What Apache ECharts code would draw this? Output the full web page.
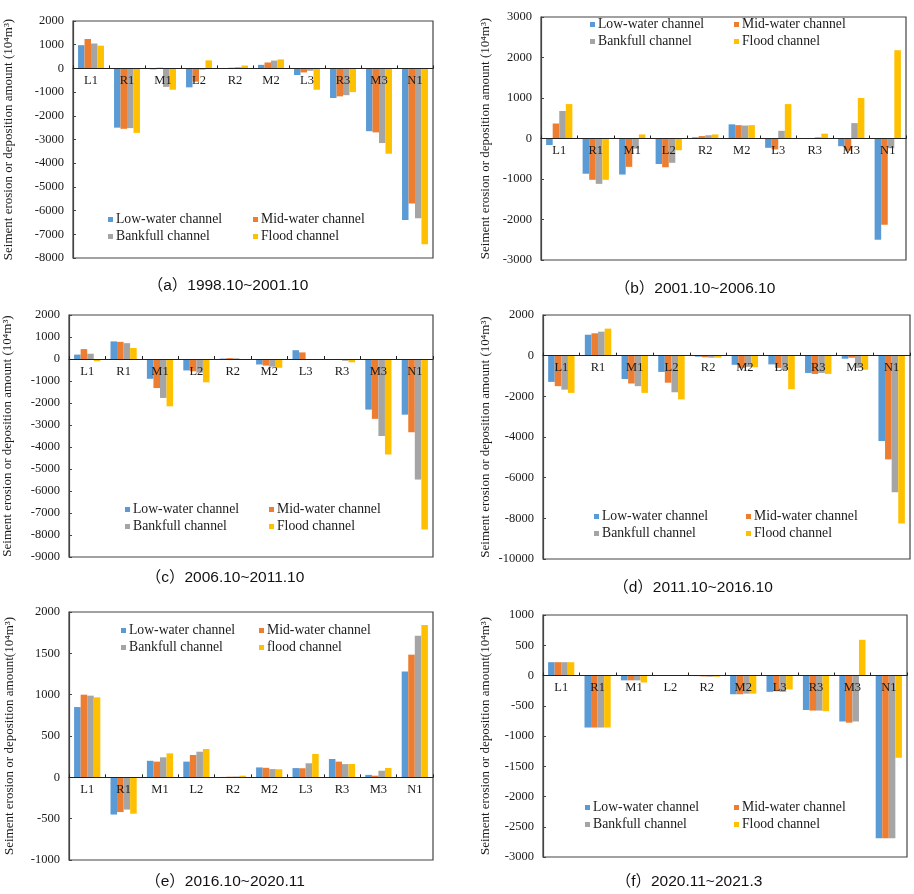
<!DOCTYPE html>
<html>
<head>
<meta charset="utf-8">
<script src="https://cdn.jsdelivr.net/npm/echarts@6/dist/echarts.min.js"></script>
<style>
  html, body { margin: 0; padding: 0; background: #fff; }
  #chart { width: 914px; height: 894px; }
</style>
</head>
<body>
<div id="chart"></div>
<script>
// Reach names along the river
const categories = ['L1', 'R1', 'M1', 'L2', 'R2', 'M2', 'L3', 'R3', 'M3', 'N1'];

// (a) 1998.10~2001.10
const lowA   = [980, -2500, -40, -800, 10, 150, -280, -1250, -2650, -6400];
const midA   = [1240, -2550, 30, -560, 30, 250, -170, -1180, -2700, -5700];
const bankA  = [1050, -2520, -780, -50, 50, 330, -100, -1130, -3150, -6320];
const floodA = [960, -2720, -900, 340, 120, 380, -900, -1000, -3600, -7420];

// (b) 2001.10~2006.10
const lowB   = [-160, -870, -890, -630, 30, 350, -230, 0, -190, -2500];
const midB   = [370, -1020, -700, -710, 60, 330, -270, 10, -300, -2130];
const bankB  = [680, -1120, -250, -600, 80, 320, 190, 30, 380, -240];
const floodB = [850, -1020, 100, -290, 100, 330, 850, 120, 1000, 2180];

// (c) 2006.10~2011.10
const lowC   = [200, 800, -900, -520, 20, -250, 400, -20, -2300, -2530];
const midC   = [450, 780, -1320, -560, 40, -300, 300, -30, -2720, -3330];
const bankC  = [240, 720, -1770, -620, 30, -350, 0, -80, -3500, -5480];
const floodC = [-100, 500, -2150, -1060, -40, -400, -30, -150, -4340, -7750];

// (d) 2011.10~2016.10
const lowD   = [-1290, 1030, -1150, -800, -50, -450, -430, -850, -150, -4200];
const midD   = [-1500, 1100, -1370, -1330, -80, -600, -600, -900, -100, -5100];
const bankD  = [-1670, 1180, -1500, -1800, -100, -550, -700, -850, -600, -6720];
const floodD = [-1830, 1330, -1830, -2150, -100, -570, -1650, -900, -690, -8250];

// (e) 2016.10~2020.11
const lowE   = [850, -450, 200, 190, 5, 120, 112, 222, 30, 1280];
const midE   = [1000, -420, 190, 270, 8, 115, 110, 190, 20, 1484];
const bankE  = [988, -390, 242, 310, 10, 100, 170, 160, 80, 1714];
const floodE = [968, -440, 290, 343, 20, 98, 282, 161, 113, 1843];

// (f) 2020.11~2021.3
const lowF   = [220, -860, -80, 0, -10, -310, -270, -570, -760, -2690];
const midF   = [220, -860, -80, 0, -15, -310, -260, -580, -780, -2690];
const bankF  = [220, -860, -80, 0, -20, -300, -270, -580, -760, -2690];
const floodF = [220, -860, -115, 0, -20, -300, -230, -590, 590, -1360];

const seriesNames = ['Low-water channel', 'Mid-water channel', 'Bankfull channel', 'Flood channel'];
const seriesNamesE = ['Low-water channel', 'Mid-water channel', 'Bankfull channel', 'flood channel'];
const colors = ['#5B9BD5', '#ED7D31', '#A5A5A5', '#FFC000'];
const yTitle = 'Seiment erosion or deposition amount (10\u2074m\u00B3)';
const yTitleNoSpace = 'Seiment erosion or deposition amount(10\u2074m\u00B3)';

const SERIF = '"Liberation Serif", "Times New Roman", serif';
const INK = '#1a1a1a';

const panels = [
  { data: [lowA, midA, bankA, floodA], names: seriesNames,
    grid: { left: 73, top: 21, width: 360, height: 237 },
    y: { min: -8000, max: 2000, interval: 1000 }, nameGap: 58, title: yTitle,
    legend: { c1: 108, c2: 253, top: 212 },
    caption: { text: '（a）1998.10~2001.10', x: 228, y: 286 } },
  { data: [lowB, midB, bankB, floodB], names: seriesNames,
    grid: { left: 541, top: 17, width: 365, height: 243 },
    y: { min: -3000, max: 3000, interval: 1000 }, nameGap: 49, title: yTitle,
    legend: { c1: 590, c2: 734, top: 17 },
    caption: { text: '（b）2001.10~2006.10', x: 695, y: 289 } },
  { data: [lowC, midC, bankC, floodC], names: seriesNames,
    grid: { left: 69, top: 315, width: 364, height: 242 },
    y: { min: -9000, max: 2000, interval: 1000 }, nameGap: 55, title: yTitle,
    legend: { c1: 125, c2: 269, top: 502 },
    caption: { text: '（c）2006.10~2011.10', x: 225, y: 578 } },
  { data: [lowD, midD, bankD, floodD], names: seriesNames,
    grid: { left: 543, top: 315, width: 367, height: 244 },
    y: { min: -10000, max: 2000, interval: 2000 }, nameGap: 51, title: yTitle,
    legend: { c1: 594, c2: 746, top: 509 },
    caption: { text: '（d）2011.10~2016.10', x: 693, y: 588 } },
  { data: [lowE, midE, bankE, floodE], names: seriesNamesE,
    grid: { left: 69, top: 612, width: 364, height: 248 },
    y: { min: -1000, max: 2000, interval: 500 }, nameGap: 53, title: yTitleNoSpace,
    legend: { c1: 121, c2: 259, top: 623 },
    caption: { text: '（e）2016.10~2020.11', x: 225, y: 882 } },
  { data: [lowF, midF, bankF, floodF], names: seriesNames,
    grid: { left: 543, top: 615, width: 364, height: 242 },
    y: { min: -3000, max: 1000, interval: 500 }, nameGap: 51, title: yTitleNoSpace,
    legend: { c1: 585, c2: 734, top: 800 },
    caption: { text: '（f）2020.11~2021.3', x: 689, y: 882 } }
];

const grids = [], xAxes = [], yAxes = [], series = [], legends = [], graphics = [];

panels.forEach((p, i) => {
  grids.push(Object.assign({
    show: true, borderColor: '#444', borderWidth: 1.2, backgroundColor: '#fff',
    containLabel: false
  }, p.grid));

  // lift the category axis (line, ticks and labels) from the grid bottom up to y = 0
  const zeroLift = p.grid.height * (0 - p.y.min) / (p.y.max - p.y.min);

  xAxes.push({
    type: 'category', gridIndex: i, data: categories,
    position: 'bottom', offset: -zeroLift, z: 10,
    axisLine: { onZero: false, lineStyle: { color: '#222', width: 1.2 } },
    axisTick: { show: true, inside: true, length: 3, lineStyle: { color: '#222' } },
    axisLabel: { fontFamily: SERIF, fontSize: 12.5, color: INK, margin: 6 },
    splitLine: { show: false }
  });

  yAxes.push({
    type: 'value', gridIndex: i,
    min: p.y.min, max: p.y.max, interval: p.y.interval,
    name: p.title, nameLocation: 'middle', nameGap: p.nameGap,
    nameTextStyle: { fontFamily: SERIF, fontSize: 13, color: INK },
    axisLine: { show: true, lineStyle: { color: '#444', width: 1.2 } },
    axisTick: { show: true, inside: true, length: 3, lineStyle: { color: '#444' } },
    axisLabel: { fontFamily: SERIF, fontSize: 12.5, color: INK, margin: 9,
                 formatter: v => String(v) },
    splitLine: { show: false }
  });

  p.data.forEach((vals, k) => {
    series.push({
      type: 'bar', name: p.names[k], xAxisIndex: i, yAxisIndex: i,
      data: vals, itemStyle: { color: colors[k] },
      barGap: '0%', barCategoryGap: '28%',
      animation: false
    });
  });

  const legendBase = {
    orient: 'vertical', icon: 'rect', itemWidth: 5, itemHeight: 5, itemGap: 2,
    top: p.legend.top, selectedMode: false,
    textStyle: { fontFamily: SERIF, fontSize: 13.7, color: INK, lineHeight: 15, padding: [0, 0, 0, -2] },
    padding: 0
  };
  legends.push(Object.assign({}, legendBase, { left: p.legend.c1, data: [p.names[0], p.names[2]] }));
  legends.push(Object.assign({}, legendBase, { left: p.legend.c2, data: [p.names[1], p.names[3]] }));

  graphics.push({
    type: 'text', x: p.caption.x, y: p.caption.y,
    style: {
      text: p.caption.text, textAlign: 'center', textVerticalAlign: 'middle',
      font: '15.5px "Liberation Sans", Arial, "Noto Sans CJK SC", sans-serif', fill: '#111'
    }
  });
});

const chart = echarts.init(document.getElementById('chart'), null, { renderer: 'canvas' });
chart.setOption({
  backgroundColor: '#fff',
  animation: false,
  grid: grids,
  xAxis: xAxes,
  yAxis: yAxes,
  legend: legends,
  series: series,
  graphic: graphics
});
</script>
</body>
</html>
